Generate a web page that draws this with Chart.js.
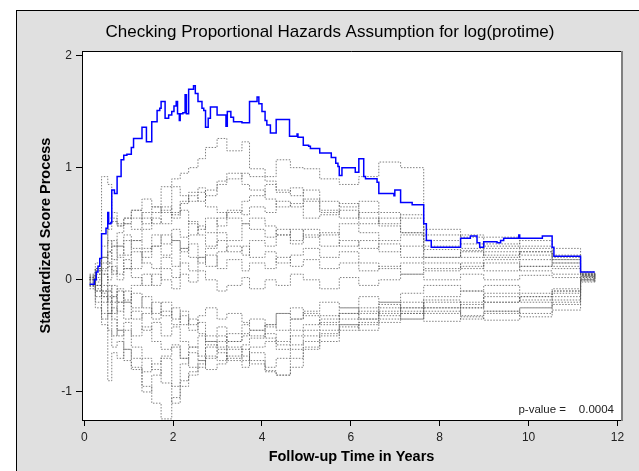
<!DOCTYPE html>
<html>
<head>
<meta charset="utf-8">
<script src="https://cdn.jsdelivr.net/npm/chart.js@4.4.1/dist/chart.umd.min.js"></script>
<style>
  html, body { margin: 0; padding: 0; background: #fff; }
  #frame {
    position: absolute; left: 16px; top: 10px; width: 700px; height: 500px;
    background: #e0e0e0; border-left: 1px solid #000; border-top: 1px solid #000;
  }
  #wrap { position: absolute; left: 0; top: 0; width: 639px; height: 471px; }
</style>
</head>
<body>
<div id="frame"></div>
<div id="wrap"><canvas id="phChart"></canvas></div>
<script>
// observed standardized score process (blue step line)
const obsTimes = [0.12,0.23,0.27,0.31,0.35,0.39,0.49,0.53,0.55,0.60,0.62,0.68,0.74,0.83,0.89,0.96,1.06,1.11,1.30,1.40,
  1.52,1.64,1.70,1.73,1.82,1.90,1.97,2.02,2.07,2.10,2.14,2.16,2.22,2.27,2.30,2.35,2.46,2.50,2.56,2.65,
  2.69,2.73,2.79,2.84,2.99,3.19,3.22,3.30,3.36,3.55,3.72,3.89,3.93,4.00,4.07,4.11,4.19,4.32,4.62,4.79,
  4.81,4.93,5.05,5.09,5.30,5.56,5.66,5.71,5.74,5.80,6.10,6.18,6.29,6.33,6.59,6.63,6.97,6.99,7.12,7.38,
  7.64,7.70,7.81,8.47,8.69,8.84,8.90,8.99,9.29,9.37,9.44,9.78,9.80,10.31,10.53,10.57,11.17,11.49];
const obsScore = [-0.04,0.00,0.07,0.12,0.19,0.41,0.46,0.60,0.50,0.51,0.80,0.77,0.92,1.07,1.11,1.12,1.18,1.26,1.36,1.23,
  1.41,1.51,1.53,1.59,1.44,1.47,1.50,1.55,1.59,1.48,1.42,1.48,1.49,1.65,1.48,1.70,1.73,1.66,1.59,1.53,
  1.51,1.36,1.44,1.54,1.47,1.37,1.50,1.45,1.41,1.40,1.59,1.63,1.57,1.50,1.42,1.38,1.31,1.43,1.28,1.30,
  1.27,1.20,1.19,1.17,1.13,1.09,1.04,1.01,0.93,1.00,0.96,1.08,0.92,0.90,0.87,0.77,0.75,0.80,0.69,0.67,
  0.50,0.35,0.29,0.37,0.39,0.33,0.29,0.34,0.33,0.35,0.37,0.40,0.37,0.39,0.29,0.21,0.07,0.07];

// simulated paths (gray dotted), all sharing the same event times
const simTimes = [0.12,0.25,0.39,0.53,0.62,0.74,0.89,1.06,1.30,1.52,1.73,1.97,2.16,2.35,2.56,2.73,2.99,3.21,
  3.55,3.72,4.07,4.32,4.64,4.93,5.30,5.74,6.18,6.63,7.12,7.64,8.47,8.99,9.80,10.53,11.17,11.49];
const sim1 = [0.02,-0.05,0.2,0.55,0.6,0.5,0.55,0.62,0.72,0.65,0.83,0.9,0.95,1.0,1.08,1.18,1.26,1.15,1.23,0.99,0.92,1.07,1.0,0.99,0.9,0.85,0.92,1.05,1.0,0.45,0.38,0.30,0.28,0.2,0.05,0.03];
const sim2 = [-0.05,0.1,0.92,0.85,0.55,0.48,0.55,0.62,0.5,0.6,0.65,0.58,0.7,0.78,0.82,0.75,0.88,0.95,0.85,0.8,0.72,0.65,0.68,0.55,0.58,0.62,0.5,0.55,0.42,0.3,0.4,0.38,0.3,0.28,0.06,0.04];
const sim3 = [0.0,-0.1,-0.3,-0.45,-0.6,-0.55,-0.72,-0.8,-0.95,-1.1,-1.24,-1.05,-0.9,-0.82,-0.75,-0.7,-0.62,-0.55,-0.48,-0.5,-0.4,-0.45,-0.35,-0.3,-0.32,-0.25,-0.3,-0.22,-0.28,-0.15,-0.1,-0.2,-0.15,-0.1,0.0,-0.02];
const sim4 = [-0.05,-0.25,-0.4,-0.9,-0.65,-0.7,-0.62,-0.78,-1.0,-0.85,-0.7,-0.95,-0.75,-0.6,-0.68,-0.55,-0.6,-0.72,-0.78,-0.65,-0.82,-0.85,-0.7,-0.62,-0.55,-0.45,-0.4,-0.35,-0.3,-0.37,-0.33,-0.36,-0.3,-0.27,0.01,-0.01];
const sim5 = [0.05,0.0,-0.15,-0.1,-0.3,-0.2,-0.35,-0.28,-0.45,-0.38,-0.5,-0.42,-0.55,-0.6,-0.5,-0.58,-0.65,-0.7,-0.62,-0.75,-0.81,-0.85,-0.78,-0.6,-0.5,-0.42,-0.38,-0.25,-0.3,-0.2,-0.25,-0.15,-0.2,-0.12,0.02,0.0];
const sim6 = [0.0,0.15,0.3,0.45,0.52,0.48,0.5,0.55,0.6,0.65,0.6,0.55,0.62,0.5,0.45,0.55,0.48,0.6,0.7,0.75,0.85,0.78,0.82,0.7,0.62,0.55,0.6,0.48,0.42,0.2,0.26,0.32,0.35,0.22,0.07,0.04];
const sim7 = [-0.08,0.05,0.1,0.25,0.18,0.3,0.22,0.35,0.28,0.4,0.32,0.45,0.38,0.52,0.4,0.3,0.42,0.35,0.5,0.55,0.48,0.4,0.45,0.38,0.42,0.3,0.35,0.25,0.3,0.27,0.2,0.25,0.18,0.15,0.04,0.02];
const sim8 = [0.02,-0.05,0.05,-0.1,-0.05,-0.2,-0.1,-0.25,-0.15,-0.3,-0.2,-0.35,-0.28,-0.4,-0.32,-0.25,-0.35,-0.3,-0.38,-0.45,-0.4,-0.3,-0.35,-0.28,-0.2,-0.25,-0.15,-0.2,-0.12,-0.05,-0.1,-0.05,-0.12,-0.08,0.03,0.01];
const sim9 = [0.0,0.1,-0.05,0.12,0.05,0.2,0.1,0.25,0.15,0.1,0.2,0.12,0.28,0.2,0.15,0.22,0.1,0.18,0.08,0.15,0.1,0.2,0.12,0.18,0.1,0.15,0.08,0.12,0.05,0.1,0.15,0.08,0.12,0.1,0.05,0.02];
const sim10 = [-0.02,-0.15,-0.1,-0.3,-0.25,-0.45,-0.38,-0.5,-0.42,-0.55,-0.62,-0.58,-0.7,-0.65,-0.72,-0.6,-0.55,-0.48,-0.4,-0.35,-0.42,-0.3,-0.25,-0.32,-0.4,-0.35,-0.28,-0.32,-0.25,-0.3,-0.22,-0.28,-0.25,-0.2,0.0,-0.02];
const sim11 = [0.03,0.08,0.2,0.35,0.3,0.42,0.5,0.45,0.55,0.5,0.62,0.83,0.75,0.7,0.78,0.65,0.6,0.55,0.5,0.45,0.38,0.45,0.35,0.4,0.3,0.35,0.28,0.32,0.2,0.15,0.1,0.18,0.12,0.15,0.04,0.01];
const sim12 = [-0.04,0.02,-0.1,-0.05,-0.15,-0.08,-0.2,-0.12,-0.25,-0.35,-0.28,-0.4,-0.32,-0.45,-0.38,-0.5,-0.42,-0.55,-0.5,-0.45,-0.52,-0.58,-0.5,-0.45,-0.38,-0.3,-0.35,-0.28,-0.2,-0.25,-0.32,-0.28,-0.33,-0.22,-0.01,0.0];
const sim13 = [0.01,-0.08,0.05,0.0,0.12,0.05,0.18,0.1,0.25,0.3,0.22,0.35,0.28,0.4,0.48,0.42,0.55,0.62,0.58,0.65,0.6,0.7,0.65,0.72,0.6,0.68,0.55,0.5,0.58,0.4,0.32,0.28,0.22,0.18,0.06,0.03];
const sim14 = [-0.06,-0.2,-0.35,-0.3,-0.5,-0.45,-0.62,-0.7,-0.82,-0.75,-0.68,-0.6,-0.7,-0.78,-0.72,-0.8,-0.75,-0.68,-0.72,-0.6,-0.55,-0.62,-0.58,-0.5,-0.45,-0.4,-0.45,-0.38,-0.35,-0.25,-0.2,-0.12,-0.18,-0.15,0.0,-0.01];
const sim15 = [0.04,-0.02,0.08,0.15,0.08,0.0,0.1,0.02,-0.05,0.05,0.0,-0.08,0.05,-0.02,0.08,0.0,-0.1,-0.05,0.02,-0.08,0.0,-0.05,0.05,0.0,-0.08,0.02,-0.05,0.0,0.05,0.0,0.05,0.0,0.04,0.02,0.03,0.01];
const sim16 = [0.0,0.05,0.15,0.25,0.35,0.3,0.4,0.35,0.45,0.55,0.5,0.6,0.68,0.75,0.7,0.8,0.85,0.9,0.95,0.92,0.88,0.8,0.75,0.8,0.7,0.65,0.7,0.6,0.55,0.35,0.28,0.22,0.25,0.18,0.05,0.02];
const sim17 = [0.0,-0.1,-0.2,-0.15,-0.35,-0.5,-0.45,-0.6,-0.7,-0.8,-0.92,-1.1,-0.95,-0.85,-0.78,-0.68,-0.72,-0.62,-0.58,-0.52,-0.48,-0.55,-0.45,-0.4,-0.35,-0.3,-0.25,-0.2,-0.25,-0.18,-0.25,-0.2,-0.15,-0.1,0.02,0.0];
const sim18 = [-0.03,0.1,0.2,0.15,0.3,0.22,0.35,0.28,0.2,0.3,0.4,0.35,0.25,0.32,0.2,0.28,0.35,0.25,0.3,0.2,0.25,0.15,0.22,0.28,0.2,0.25,0.15,0.1,0.15,0.08,0.12,0.15,0.08,0.05,0.04,0.02];
const sim19 = [0.02,-0.05,-0.12,-0.2,-0.15,-0.28,-0.2,-0.35,-0.3,-0.2,-0.32,-0.25,-0.4,-0.35,-0.48,-0.55,-0.5,-0.6,-0.68,-0.72,-0.78,-0.7,-0.62,-0.55,-0.48,-0.4,-0.35,-0.3,-0.35,-0.28,-0.35,-0.3,-0.25,-0.18,-0.02,-0.01];
const sim20 = [-0.02,0.08,-0.15,-0.3,-0.2,-0.1,-0.18,-0.05,0.05,-0.05,0.1,0.02,0.15,0.08,0.2,0.12,0.25,0.3,0.22,0.35,0.3,0.4,0.32,0.45,0.4,0.5,0.42,0.35,0.4,0.2,0.25,0.2,0.25,0.12,0.05,0.03];
const simPaths = [sim1,sim2,sim3,sim4,sim5,sim6,sim7,sim8,sim9,sim10,sim11,sim12,sim13,sim14,sim15,sim16,sim17,sim18,sim19,sim20];

const xTicks = [0, 2, 4, 6, 8, 10, 12];
const yTicks = [-1, 0, 1, 2];
const pValue = '0.0004';

const FONT = "'Liberation Sans', Arial, sans-serif";

const toPoints = (xs, ys) => xs.map((x, i) => ({ x: x, y: ys[i] }));

const datasets = [{
  label: 'Observed',
  data: toPoints(obsTimes, obsScore),
  borderColor: '#0000ff',
  borderWidth: 1.5,
  stepped: true,
  pointRadius: 0
}];
simPaths.forEach((p, i) => {
  datasets.push({
    label: 'Simulated ' + (i + 1),
    data: toPoints(simTimes, p),
    borderColor: 'rgba(85,85,85,0.75)',
    borderWidth: 1,
    borderDash: [1.5, 1.5],
    stepped: true,
    pointRadius: 0
  });
});

// white plot area, frame and the p-value note
const framePlugin = {
  id: 'frame',
  beforeDraw(chart) {
    const a = chart.chartArea, c = chart.ctx;
    c.save();
    c.fillStyle = '#fff';
    c.fillRect(a.left, a.top, a.right - a.left, a.bottom - a.top);
    c.restore();
  },
  afterDraw(chart) {
    const a = chart.chartArea, c = chart.ctx;
    c.save();
    c.strokeStyle = '#000';
    c.lineWidth = 1;
    c.beginPath();
    c.moveTo(a.right, a.top + 0.5);
    c.lineTo(a.left + 0.5, a.top + 0.5);
    c.lineTo(a.left + 0.5, a.bottom + 0.5);
    c.lineTo(a.right, a.bottom + 0.5);
    c.stroke();
    c.strokeStyle = '#808080';
    c.lineWidth = 2;
    c.beginPath();
    c.moveTo(a.right + 1, a.top);
    c.lineTo(a.right + 1, a.bottom + 1);
    c.stroke();
    c.fillStyle = '#222';
    c.font = '11.5px ' + FONT;
    c.textAlign = 'right';
    c.textBaseline = 'alphabetic';
    c.fillText('p-value =    ' + pValue, a.right - 7, a.bottom - 7);
    c.restore();
  }
};

const ctx = document.getElementById('phChart').getContext('2d');
new Chart(ctx, {
  type: 'line',
  data: { datasets: datasets },
  plugins: [framePlugin],
  options: {
    responsive: true,
    maintainAspectRatio: false,
    animation: false,
    layout: { padding: { left: 39, right: 18, top: 0, bottom: 0 } },
    plugins: {
      legend: { display: false },
      tooltip: { enabled: false },
      title: {
        display: true,
        text: 'Checking Proportional Hazards Assumption for log(protime)',
        color: '#000',
        font: { family: FONT, size: 17, weight: 'normal', lineHeight: 1.2 },
        padding: { top: 22, bottom: 8.6 }
      }
    },
    scales: {
      x: {
        type: 'linear',
        min: -0.05,
        max: 12.08,
        afterFit: s => { s.height = 51; },
        afterBuildTicks: s => { s.ticks = xTicks.map(v => ({ value: v })); },
        grid: { display: true, drawOnChartArea: false, drawTicks: true, tickLength: 6, color: '#000' },
        border: { display: true, color: '#000' },
        ticks: { color: '#222', font: { family: FONT, size: 12 }, padding: 4, maxRotation: 0 },
        title: {
          display: true,
          text: 'Follow-up Time in Years',
          color: '#000',
          font: { family: FONT, size: 14.5, weight: 'bold', lineHeight: 1.2 },
          padding: { top: 0, bottom: 5 }
        }
      },
      y: {
        min: -1.25,
        max: 2.04,
        afterFit: s => { s.width = 43; },
        afterBuildTicks: s => { s.ticks = yTicks.map(v => ({ value: v })); },
        grid: { display: true, drawOnChartArea: false, drawTicks: true, tickLength: 6, color: '#000' },
        border: { display: true, color: '#000' },
        ticks: { color: '#222', font: { family: FONT, size: 12 }, padding: 4 },
        title: {
          display: true,
          text: 'Standardized Score Process',
          color: '#000',
          font: { family: FONT, size: 14.5, weight: 'bold', lineHeight: 1 },
          padding: { top: 0, bottom: 0 }
        }
      }
    }
  }
});
</script>
</body>
</html>
